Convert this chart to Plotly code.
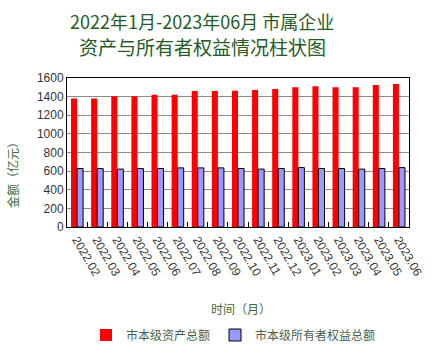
import plotly.graph_objects as go

months = ["2022.02", "2022.03", "2022.04", "2022.05", "2022.06", "2022.07", "2022.08", "2022.09",
          "2022.10", "2022.11", "2022.12", "2023.01", "2023.02", "2023.03", "2023.04", "2023.05", "2023.06"]
total_assets = [1380, 1380, 1405, 1405, 1420, 1420, 1460, 1460, 1464, 1471, 1482, 1500, 1511, 1500, 1500, 1525, 1536]
owner_equity = [628, 628, 622, 628, 628, 635, 635, 635, 628, 622, 628, 638, 628, 628, 622, 628, 638]

W, H = 442, 356
L, R, T, B = 67, 409, 78, 227
pw, ph = R - L, B - T


def px(x):
    return (x - L) / pw


def py(y):
    return (B - y) / ph


fig = go.Figure()
fig.add_trace(go.Bar(x=months, y=total_assets, name="市本级资产总额",
                     marker=dict(color="#FF0000", line=dict(width=0))))
fig.add_trace(go.Bar(x=months, y=owner_equity, name="市本级所有者权益总额",
                     marker=dict(color="#9999FF", line=dict(color="#000000", width=1))))

green = "#245c24"
fig.update_layout(
    width=W, height=H,
    margin=dict(l=L, r=W - R, t=T, b=H - B, pad=0, autoexpand=False),
    paper_bgcolor="white", plot_bgcolor="white",
    barmode="group", bargap=0.4, bargroupgap=0,
    font=dict(family="Noto Sans CJK SC, DejaVu Sans, sans-serif", size=11, color="#333"),
    showlegend=True,
    legend=dict(orientation="h", x=px(86), xanchor="left", y=py(335), yanchor="middle",
                font=dict(size=12, color="#4a5f4a"),
                itemwidth=30, traceorder="normal", bgcolor="rgba(0,0,0,0)"),
    xaxis=dict(showline=True, linecolor="#000", linewidth=1, mirror=True,
               ticks="inside", ticklen=5, tickcolor="#000", tickson="boundaries",
               tickangle=60, tickfont=dict(size=12, color="#333",
                                           family="Liberation Sans, Arial, sans-serif"),
               showgrid=False, automargin=False),
    yaxis=dict(range=[0, 1600], dtick=200, showline=True, linecolor="#000", linewidth=1, mirror=True,
               showgrid=True, gridcolor="#8c8c8c", gridwidth=1.2, ticks="",
               tickfont=dict(size=12, color="#333", family="Liberation Sans, Arial, sans-serif"),
               zeroline=False, automargin=False),
    annotations=[
        dict(text="2022年1月-2023年06月 市属企业", x=px(202), y=py(21),
             showarrow=False, font=dict(size=18, color=green)),
        dict(text="资产与所有者权益情况柱状图", x=px(202), y=py(46),
             showarrow=False, font=dict(size=19, color=green)),
        dict(text="金额（亿元）", x=px(12), y=py(172), textangle=-90, showarrow=False,
             font=dict(size=12, color="#3a6b3a")),
        dict(text="时间（月）", x=px(241), y=py(308), showarrow=False,
             font=dict(size=12, color="#3a6b3a")),
    ],
)
for a in fig.layout.annotations:
    a.xref = "paper"; a.yref = "paper"
    a.xanchor = "center"; a.yanchor = "middle"

fig.write_html("out.html", config={"displayModeBar": False},
               post_script="document.body.style.margin='0';document.body.style.overflow='hidden';")
